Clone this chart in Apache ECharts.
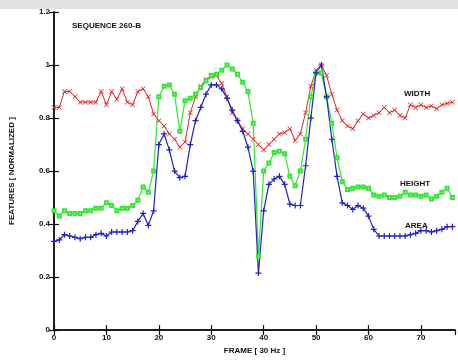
<!DOCTYPE html>
<html>
<head>
<meta charset="utf-8">
<script src="https://cdn.jsdelivr.net/npm/echarts@6/dist/echarts.min.js"></script>
<style>
  html, body { margin: 0; padding: 0; background: #fff; }
  #graph { width: 458px; height: 360px; }
</style>
</head>
<body>
<div id="graph"></div>
<script>
// frame numbers (30 Hz)
var frames = [];
for (var i = 0; i <= 76; i++) frames.push(i);

// normalized features
var widthValues = [0.84, 0.84, 0.90, 0.90, 0.88, 0.86, 0.86, 0.86, 0.86, 0.90,
    0.85, 0.90, 0.87, 0.91, 0.86, 0.85, 0.90, 0.91, 0.88, 0.815,
    0.79, 0.77, 0.74, 0.72, 0.69, 0.71, 0.82, 0.88, 0.92, 0.945,
    0.955, 0.96, 0.93, 0.88, 0.82, 0.79, 0.76, 0.74, 0.72, 0.70,
    0.68, 0.70, 0.72, 0.74, 0.745, 0.76, 0.715, 0.74, 0.82, 0.92,
    0.98, 1.0, 0.96, 0.89, 0.83, 0.79, 0.77, 0.76, 0.79, 0.815,
    0.80, 0.81, 0.82, 0.84, 0.82, 0.83, 0.81, 0.80, 0.85, 0.84,
    0.85, 0.84, 0.845, 0.835, 0.85, 0.855, 0.86];
var heightValues = [0.45, 0.43, 0.45, 0.44, 0.44, 0.44, 0.45, 0.45, 0.46, 0.46,
    0.48, 0.47, 0.45, 0.46, 0.46, 0.47, 0.49, 0.54, 0.52, 0.60,
    0.88, 0.92, 0.925, 0.89, 0.75, 0.865, 0.875, 0.89, 0.915, 0.94,
    0.96, 0.965, 0.98, 1.0, 0.985, 0.965, 0.935, 0.90, 0.78, 0.28,
    0.60, 0.63, 0.67, 0.675, 0.665, 0.58, 0.545, 0.60, 0.72, 0.88,
    0.97, 0.97, 0.88, 0.78, 0.65, 0.56, 0.53, 0.535, 0.54, 0.54,
    0.535, 0.51, 0.505, 0.51, 0.50, 0.50, 0.505, 0.52, 0.51, 0.51,
    0.505, 0.51, 0.495, 0.505, 0.52, 0.535, 0.50];
var areaValues = [0.335, 0.34, 0.36, 0.355, 0.35, 0.345, 0.35, 0.35, 0.36, 0.365,
    0.355, 0.37, 0.37, 0.37, 0.37, 0.375, 0.41, 0.44, 0.395, 0.45,
    0.70, 0.74, 0.68, 0.60, 0.575, 0.58, 0.70, 0.79, 0.84, 0.89,
    0.925, 0.925, 0.91, 0.875, 0.83, 0.79, 0.75, 0.69, 0.60, 0.215,
    0.45, 0.55, 0.57, 0.58, 0.55, 0.475, 0.47, 0.47, 0.62, 0.80,
    0.97, 1.0, 0.88, 0.72, 0.58, 0.48, 0.47, 0.455, 0.47, 0.46,
    0.43, 0.38, 0.355, 0.355, 0.355, 0.355, 0.355, 0.355, 0.36, 0.365,
    0.375, 0.375, 0.37, 0.375, 0.38, 0.39, 0.39];

// pair each value with its frame
function pairs(values) {
    return values.map(function (v, k) { return [frames[k], v]; });
}

var xSymbol = 'path://M0,1L1,0L5,4L9,0L10,1L6,5L10,9L9,10L5,6L1,10L0,9L4,5Z';
var plusSymbol = 'path://M4,0H6V4H10V6H6V10H4V6H0V4H4Z';
var font = 'Liberation Sans';

var chart = echarts.init(document.getElementById('graph'));

var axisCommon = {
    axisLine: { lineStyle: { color: '#111', width: 1.5 } },
    axisTick: { inside: true, length: 5, lineStyle: { color: '#111', width: 1.2 } },
    splitLine: { show: false }
};

var option = {
    animation: false,
    backgroundColor: '#fff',
    grid: { left: 52, top: 12, right: 3, bottom: 27 },
    xAxis: [Object.assign({
        type: 'value', min: 0, max: 76.5, interval: 10, position: 'bottom',
        name: 'FRAME [ 30 Hz ]', nameLocation: 'middle', nameGap: 15,
        nameTextStyle: { fontFamily: font, fontWeight: 'bold', fontSize: 8, color: '#111' },
        axisLabel: { fontFamily: font, fontWeight: 'bold', fontSize: 8, color: '#111', margin: 4, showMaxLabel: false }
    }, axisCommon), Object.assign({
        type: 'value', min: 0, max: 76.5, interval: 10, position: 'top',
        axisLabel: { show: false }
    }, axisCommon)],
    yAxis: [Object.assign({
        type: 'value', min: 0, max: 1.2, interval: 0.2, position: 'left',
        name: 'FEATURES [ NORMALIZED ]', nameLocation: 'middle', nameGap: 38,
        nameTextStyle: { fontFamily: font, fontWeight: 'bold', fontSize: 8, color: '#111' },
        axisLabel: { fontFamily: font, fontWeight: 'bold', fontSize: 8, color: '#111', margin: 4 }
    }, axisCommon), Object.assign({
        type: 'value', min: 0, max: 1.2, interval: 0.2, position: 'right',
        axisLabel: { show: false }
    }, axisCommon)],
    series: [{
        name: 'WIDTH', type: 'line', data: pairs(widthValues),
        symbol: xSymbol, symbolSize: 5,
        lineStyle: { color: '#e02525', width: 1 },
        itemStyle: { color: '#e02525' }
    }, {
        name: 'HEIGHT', type: 'line', data: pairs(heightValues),
        symbol: 'emptyRect', symbolSize: 3,
        lineStyle: { color: '#33e633', width: 1.2 },
        itemStyle: { color: '#33e633', borderColor: '#33e633', borderWidth: 1 }
    }, {
        name: 'AREA', type: 'line', data: pairs(areaValues),
        symbol: plusSymbol, symbolSize: 6,
        lineStyle: { color: '#2222c0', width: 1.2 },
        itemStyle: { color: '#2222c0' }
    }],
    graphic: [
        { type: 'rect', shape: { x: 0, y: 0, width: 458, height: 9 }, style: { fill: '#e2e2e2' } },
        { type: 'text', left: 72, top: 22, style: { text: 'SEQUENCE 260-B', font: 'bold 8px ' + font, fill: '#111' } },
        { type: 'text', left: 404, top: 90, style: { text: 'WIDTH', font: 'bold 8px ' + font, fill: '#111' } },
        { type: 'text', left: 400, top: 180, style: { text: 'HEIGHT', font: 'bold 8px ' + font, fill: '#111' } },
        { type: 'text', left: 405, top: 222, style: { text: 'AREA', font: 'bold 8px ' + font, fill: '#111' } }
    ]
};

chart.setOption(option);
</script>
</body>
</html>
